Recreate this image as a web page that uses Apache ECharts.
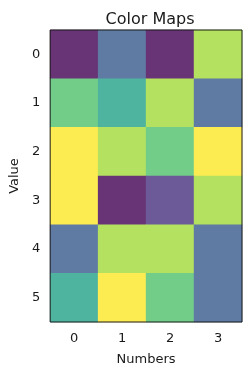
<!DOCTYPE html>
<html>
<head>
<meta charset="utf-8">
<script src="https://cdn.jsdelivr.net/npm/echarts@6/dist/echarts.min.js"></script>
<style>
  html, body { margin: 0; padding: 0; background: #fff; }
  #chart { width: 250px; height: 374px; }
</style>
</head>
<body>
<div id="chart"></div>
<script>
// column labels (x) and row labels (y)
var xLabels = ["0", "1", "2", "3"];
var yLabels = ["0", "1", "2", "3", "4", "5"];

// one array per row
var row0 = [1, 3, 1, 7];
var row1 = [6, 5, 7, 3];
var row2 = [8, 7, 6, 8];
var row3 = [8, 1, 2, 7];
var row4 = [3, 7, 7, 3];
var row5 = [5, 8, 6, 3];
var rows = [row0, row1, row2, row3, row4, row5];

// viridis
var viridis = ["#440154", "#482878", "#3e4989", "#31688e", "#26828e",
               "#1f9e89", "#35b779", "#6ece58", "#b5de2b", "#fde725"];

// the picture uses alpha 0.8 on white, mix it in up front so cells have no seams
function fade(hex) {
    var out = "#";
    for (var i = 1; i < 7; i += 2) {
        var c = parseInt(hex.substr(i, 2), 16);
        var m = Math.round(c * 0.8 + 255 * 0.2);
        out += (m < 16 ? "0" : "") + m.toString(16);
    }
    return out;
}
var colors = viridis.map(fade);

var data = [];
rows.forEach(function (row, r) {
    row.forEach(function (v, c) {
        data.push([c, r, v]);
    });
});

var font = "DejaVu Sans";
var ink = "#1a1a1a";
var chart = echarts.init(document.getElementById("chart"));
chart.setOption({
    animation: false,
    title: {
        text: "Color Maps",
        left: 145,
        textAlign: "center",
        top: 7,
        textStyle: { fontFamily: font, fontSize: 16, fontWeight: "normal", color: ink }
    },
    grid: {
        left: 48, right: 8, top: 30, bottom: 52,
        show: true, borderColor: ink, borderWidth: 1, backgroundColor: "transparent", z: 10
    },
    xAxis: {
        type: "category",
        data: xLabels,
        name: "Numbers",
        nameLocation: "middle",
        nameGap: 31,
        nameTextStyle: { fontFamily: font, fontSize: 13, color: ink },
        axisLine: { show: false },
        axisTick: { alignWithLabel: true, length: 4, lineStyle: { color: ink } },
        axisLabel: { fontFamily: font, fontSize: 13, color: ink, margin: 10 },
        splitArea: { show: false }
    },
    yAxis: {
        type: "category",
        data: yLabels,
        inverse: true,
        name: "Value",
        nameLocation: "middle",
        nameGap: 29,
        nameRotate: 90,
        nameTextStyle: { fontFamily: font, fontSize: 13, color: ink },
        axisLine: { show: false },
        axisTick: { alignWithLabel: true, length: 4, lineStyle: { color: ink } },
        axisLabel: { fontFamily: font, fontSize: 13, color: ink, margin: 10 },
        splitArea: { show: false }
    },
    visualMap: {
        show: false,
        min: 1,
        max: 8,
        dimension: 2,
        inRange: { color: colors }
    },
    series: [{
        type: "heatmap",
        data: data,
        itemStyle: { borderWidth: 0 },
        emphasis: { disabled: true }
    }]
});
</script>
</body>
</html>
